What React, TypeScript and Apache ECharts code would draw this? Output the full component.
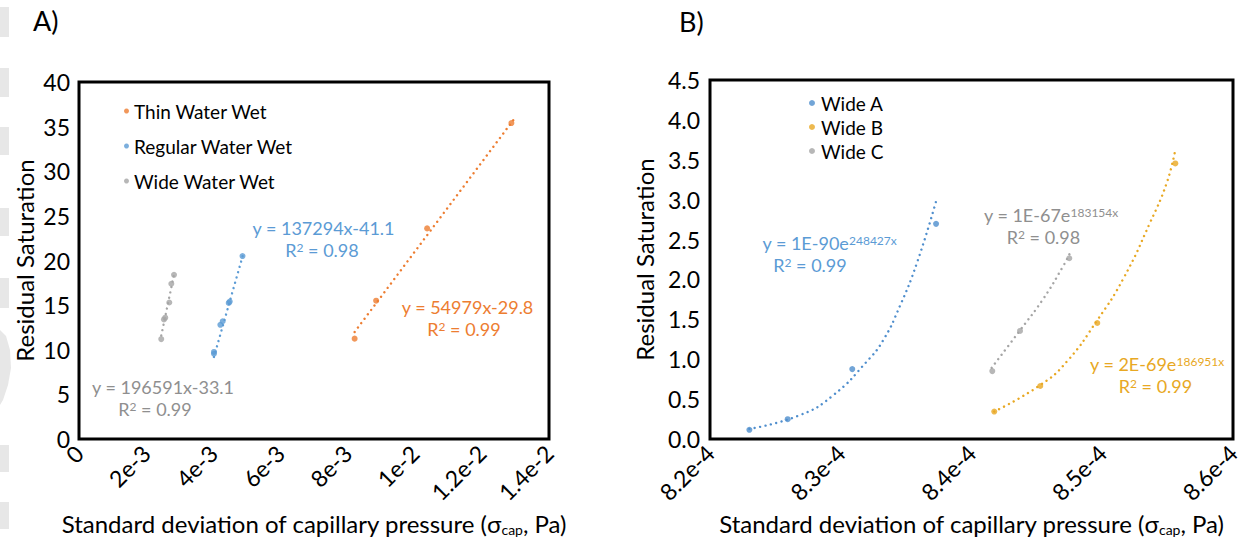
import React, { useEffect, useRef } from "react";
import * as echarts from "echarts";

const FONT = "Lato, 'Open Sans', sans-serif";

// Panel A (tick-label units as printed on the axis)
const xTicksA = [0, 0.002, 0.004, 0.006, 0.008, 0.01, 0.012, 0.014];
const thinX = [0.00821, 0.00885, 0.01037, 0.01288];
const thinY = [11.25, 15.5, 23.6, 35.4];
const regularX = [0.00402, 0.00402, 0.00421, 0.00428, 0.00446, 0.00449, 0.00487];
const regularY = [9.56, 9.76, 12.8, 13.2, 15.25, 15.4, 20.5];
const wideX = [0.00245, 0.00253, 0.00257, 0.00269, 0.00275, 0.00283];
const wideY = [11.2, 13.4, 13.6, 15.3, 17.4, 18.4];
// trendlines A
const thinTrendX = [0.00821, 0.01295];
const thinTrendY = [12.0, 35.8];
const regularTrendX = [0.00402, 0.00489];
const regularTrendY = [9.2, 20.7];
const wideTrendX = [0.00245, 0.00284];
const wideTrendY = [11.6, 18.6];

// Panel B
const wideAX = [8.2301e-4, 8.2594e-4, 8.3088e-4, 8.3729e-4];
const wideAY = [0.116, 0.249, 0.877, 2.697];
const wideBX = [8.4174e-4, 8.4526e-4, 8.4962e-4, 8.5559e-4];
const wideBY = [0.345, 0.665, 1.455, 3.454];
const wideCX = [8.4159e-4, 8.4371e-4, 8.4748e-4];
const wideCY = [0.852, 1.355, 2.266];
// trendlines B
const wideATrendX = [8.2301e-4, 8.2688e-4, 8.2943e-4, 8.3198e-4, 8.3325e-4, 8.3453e-4, 8.3581e-4, 8.3729e-4];
const wideATrendY = [0.128, 0.3, 0.55, 0.97, 1.24, 1.67, 2.2, 2.98];
const wideBTrendX = [8.4174e-4, 8.4526e-4, 8.4728e-4, 8.4962e-4, 8.5161e-4, 8.5365e-4, 8.5493e-4, 8.5559e-4];
const wideBTrendY = [0.345, 0.677, 0.969, 1.49, 2.01, 2.71, 3.21, 3.63];
const wideCTrendX = [8.4154e-4, 8.4371e-4, 8.4549e-4, 8.4702e-4, 8.4753e-4];
const wideCTrendY = [0.894, 1.363, 1.758, 2.17, 2.33];

const ORANGE = "#ED7D31";
const BLUE = "#5B9BD5";
const GREY = "#A5A5A5";
const GREY_TXT = "#8F8F8F";
const BLUE_B = "#4F8ECD";
const GOLD = "#E8A823";

const zip = (xs: number[], ys: number[]) => xs.map((x, i) => [x, ys[i]]);

const scatter = (name: string, xs: number[], ys: number[], color: string, gi: number) => ({
  name,
  type: "scatter",
  xAxisIndex: gi,
  yAxisIndex: gi,
  data: zip(xs, ys),
  symbol: "circle",
  symbolSize: 6,
  itemStyle: { color },
  z: 3,
});

const trend = (name: string, xs: number[], ys: number[], color: string, gi: number, smooth = false) => ({
  name,
  type: "line",
  xAxisIndex: gi,
  yAxisIndex: gi,
  data: zip(xs, ys),
  showSymbol: false,
  symbol: "none",
  smooth,
  lineStyle: { color, width: 2.4, type: [0.01, 5.5], cap: "round" },
  z: 2,
  silent: true,
});

const fmtA = (v: number) => {
  if (Math.abs(v) < 1e-12) return "0";
  if (v < 0.0099) return `${Math.round(v * 1000)}e-3`;
  return `${+(v * 100).toFixed(1)}e-2`;
};
const fmtB = (v: number) => `${(v * 1e4).toFixed(1)}e-4`;

const axisNameX = "Standard deviation of capillary pressure (σ{sub|cap}, Pa)";
const nameStyle = {
  fontSize: 24,
  fontFamily: FONT,
  color: "#000",
  rich: { sub: { fontSize: 14, fontFamily: FONT, color: "#000", verticalAlign: "bottom", padding: [12, 0, 0, 0] } },
};

const eqText = (x: number, y: number, text: string, color: string) => ({
  type: "text",
  x,
  y,
  style: {
    text,
    fill: color,
    fontSize: 18,
    fontFamily: FONT,
    align: "center",
    verticalAlign: "middle",
    rich: {
      sup: { fontSize: 12, fontFamily: FONT, fill: color, verticalAlign: "top", lineHeight: 18 },
    },
  },
});

const block = (y: number, h: number) => ({
  type: "rect",
  shape: { x: 0, y, width: 9, height: h },
  style: { fill: "#E7E7E7" },
});

const option = {
  animation: false,
  backgroundColor: "#ffffff",
  textStyle: { fontFamily: FONT },
  grid: [
    { left: 79, top: 82, width: 470, height: 359, show: true, borderColor: "#000", borderWidth: 3, backgroundColor: "transparent" },
    { left: 710, top: 80, width: 523, height: 361, show: true, borderColor: "#000", borderWidth: 3, backgroundColor: "transparent" },
  ],
  xAxis: [
    {
      gridIndex: 0,
      type: "value",
      min: xTicksA[0],
      max: xTicksA[xTicksA.length - 1],
      interval: 0.002,
      axisLine: { show: false },
      axisTick: { show: false },
      splitLine: { show: false },
      axisLabel: { rotate: 45, fontSize: 23, fontFamily: FONT, color: "#000", margin: 10, formatter: fmtA },
      name: axisNameX,
      nameLocation: "middle",
      nameGap: 68,
      nameTextStyle: nameStyle,
    },
    {
      gridIndex: 1,
      type: "value",
      min: 8.2e-4,
      max: 8.6e-4,
      interval: 1e-5,
      axisLine: { show: false },
      axisTick: { show: false },
      splitLine: { show: false },
      axisLabel: { rotate: 45, fontSize: 23, fontFamily: FONT, color: "#000", margin: 10, formatter: fmtB },
      name: axisNameX,
      nameLocation: "middle",
      nameGap: 68,
      nameTextStyle: nameStyle,
    },
  ],
  yAxis: [
    {
      gridIndex: 0,
      type: "value",
      min: 0,
      max: 40,
      interval: 5,
      axisLine: { show: false },
      axisTick: { show: false },
      splitLine: { show: false },
      axisLabel: { fontSize: 23, fontFamily: FONT, color: "#000", margin: 9 },
      name: "Residual Saturation",
      nameLocation: "middle",
      nameGap: 43,
      nameTextStyle: { fontSize: 24, fontFamily: FONT, color: "#000" },
    },
    {
      gridIndex: 1,
      type: "value",
      min: 0,
      max: 4.5,
      interval: 0.5,
      axisLine: { show: false },
      axisTick: { show: false },
      splitLine: { show: false },
      axisLabel: { fontSize: 23, fontFamily: FONT, color: "#000", margin: 10, formatter: (v: number) => v.toFixed(1) },
      name: "Residual Saturation",
      nameLocation: "middle",
      nameGap: 54,
      nameTextStyle: { fontSize: 24, fontFamily: FONT, color: "#000" },
    },
  ],
  legend: [
    {
      data: ["Thin Water Wet", "Regular Water Wet", "Wide Water Wet"],
      orient: "vertical",
      left: 119,
      top: 96,
      icon: "circle",
      itemWidth: 5,
      itemHeight: 5,
      itemGap: 15,
      selectedMode: false,
      textStyle: { fontSize: 19, fontFamily: FONT, color: "#000", lineHeight: 20 },
    },
    {
      data: ["Wide A", "Wide B", "Wide C"],
      orient: "vertical",
      left: 804,
      top: 88,
      icon: "circle",
      itemWidth: 6,
      itemHeight: 6,
      itemGap: 4,
      selectedMode: false,
      textStyle: { fontSize: 19, fontFamily: FONT, color: "#000", lineHeight: 20, padding: [0, 0, 0, 1] },
    },
  ],
  series: [
    trend("thin trend", thinTrendX, thinTrendY, ORANGE, 0),
    trend("regular trend", regularTrendX, regularTrendY, BLUE, 0),
    trend("wide trend", wideTrendX, wideTrendY, GREY, 0),
    scatter("Thin Water Wet", thinX, thinY, ORANGE, 0),
    scatter("Regular Water Wet", regularX, regularY, BLUE, 0),
    scatter("Wide Water Wet", wideX, wideY, GREY, 0),
    trend("A trend", wideATrendX, wideATrendY, BLUE_B, 1, true),
    trend("B trend", wideBTrendX, wideBTrendY, GOLD, 1, true),
    trend("C trend", wideCTrendX, wideCTrendY, GREY, 1, true),
    scatter("Wide A", wideAX, wideAY, BLUE_B, 1),
    scatter("Wide B", wideBX, wideBY, GOLD, 1),
    scatter("Wide C", wideCX, wideCY, GREY, 1),
  ],
  graphic: [
    block(7, 30),
    block(68, 29),
    block(127, 28),
    block(208, 28),
    block(278, 30),
    {
      type: "polygon",
      shape: { points: [[0, 330], [6, 336], [10, 350], [11, 368], [8, 385], [3, 400], [0, 405]] },
      style: { fill: "#E7E7E7" },
    },
    block(445, 27),
    block(502, 27),
    { type: "text", x: 33, y: 7, style: { text: "A)", fontSize: 27, fontFamily: FONT, fill: "#000" } },
    { type: "text", x: 679, y: 8, style: { text: "B)", fontSize: 27, fontFamily: FONT, fill: "#000" } },
    eqText(323.5, 228, "y = 137294x-41.1", BLUE),
    eqText(322, 250, "R{sup|2} = 0.98", BLUE),
    eqText(467.5, 307, "y = 54979x-29.8", ORANGE),
    eqText(464, 329, "R{sup|2} = 0.99", ORANGE),
    eqText(163, 387, "y = 196591x-33.1", GREY_TXT),
    eqText(155, 409, "R{sup|2} = 0.99", GREY_TXT),
    eqText(829.5, 243, "y = 1E-90e{sup|248427x}", BLUE),
    eqText(810, 265, "R{sup|2} = 0.99", BLUE),
    eqText(1051, 215, "y = 1E-67e{sup|183154x}", GREY_TXT),
    eqText(1043.5, 237, "R{sup|2} = 0.98", GREY_TXT),
    eqText(1157, 364, "y = 2E-69e{sup|186951x}", GOLD),
    eqText(1155.5, 386, "R{sup|2} = 0.99", GOLD),
  ],
};

export default function App() {
  const ref = useRef<HTMLDivElement>(null);
  useEffect(() => {
    if (!ref.current) return;
    const chart = echarts.init(ref.current, null, { renderer: "svg" });
    chart.setOption(option as any);
    return () => chart.dispose();
  }, []);
  return (
    <div
      ref={ref}
      style={{ position: "absolute", left: 0, top: 0, width: 1248, height: 541, background: "#fff" }}
    />
  );
}
